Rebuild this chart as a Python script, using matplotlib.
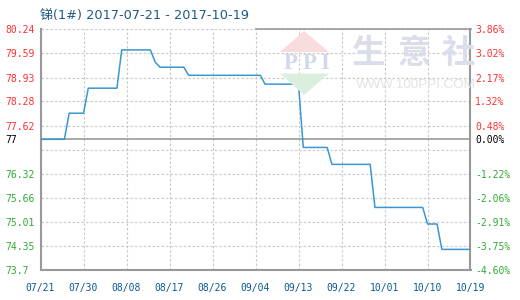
import numpy as np
import matplotlib
matplotlib.use("Agg")
import matplotlib.pyplot as plt
from matplotlib.patches import Polygon

# Antimony (1#) price, change points between 2017-07-21 and 2017-10-19
dates = ["2017-07-21", "2017-07-26", "2017-07-27", "2017-07-30", "2017-07-31",
         "2017-08-06", "2017-08-07", "2017-08-13", "2017-08-14", "2017-08-15",
         "2017-08-20", "2017-08-21", "2017-09-05", "2017-09-06", "2017-09-13",
         "2017-09-14", "2017-09-19", "2017-09-20", "2017-09-28", "2017-09-29",
         "2017-10-09", "2017-10-10", "2017-10-12", "2017-10-13", "2017-10-19"]
prices = [77.25, 77.25, 77.96, 77.96, 78.64,
          78.64, 79.68, 79.68, 79.35, 79.21,
          79.21, 78.99, 78.99, 78.75, 78.75,
          77.03, 77.03, 76.57, 76.57, 75.40,
          75.40, 74.95, 74.95, 74.26, 74.26]

base_price = 77.25
base_label = "77"

x_tick_dates = ["2017-07-21", "2017-07-30", "2017-08-08", "2017-08-17", "2017-08-26",
                "2017-09-04", "2017-09-13", "2017-09-22", "2017-10-01", "2017-10-10",
                "2017-10-19"]
x_tick_labels = ["07/21", "07/30", "08/08", "08/17", "08/26", "09/04", "09/13",
                 "09/22", "10/01", "10/10", "10/19"]

y_grid = [80.24, 79.59, 78.93, 78.28, 77.62, 76.97, 76.32, 75.66, 75.01, 74.35, 73.70]
y_upper_ticks = [80.24, 79.59, 78.93, 78.28, 77.62]
y_upper_labels = ["80.24", "79.59", "78.93", "78.28", "77.62"]
y_lower_ticks = [76.32, 75.66, 75.01, 74.35, 73.70]
y_lower_labels = ["76.32", "75.66", "75.01", "74.35", "73.7"]
pct_upper_labels = ["3.86%", "3.02%", "2.17%", "1.32%", "0.48%"]
pct_base_label = "0.00%"
pct_lower_labels = ["-1.22%", "-2.06%", "-2.91%", "-3.75%", "-4.60%"]

title = "锑(1#) 2017-07-21 - 2017-10-19"

W, H = 520, 300
RED, GREEN, BLACK = "#ff3030", "#33aa33", "#000000"
GRID = "#c8c8c8"
SPINE = "#999999"

fig = plt.figure(figsize=(W / 100, H / 100), dpi=100)
L, R, T, B = 40.5, 470.5, 29.3, 270.0
ax = fig.add_axes([L / W, 1 - B / H, (R - L) / W, (B - T) / H])

x = np.array(dates, dtype="datetime64[D]")
xt = np.array(x_tick_dates, dtype="datetime64[D]")
ax.set_xlim(xt[0], xt[-1])
ax.set_ylim(y_grid[-1], y_grid[0])


def px(xp, yp):
    return xp / W, 1 - yp / H


# faint site watermark behind the plot
tri_top = Polygon([px(304, 31), px(280, 52), px(329, 52)], closed=True,
                  fc="#f9dcdc", ec="none", transform=fig.transFigure, zorder=0.2)
tri_bot = Polygon([px(280, 73.5), px(329, 73.5), px(304, 95)], closed=True,
                  fc="#dcefdf", ec="none", transform=fig.transFigure, zorder=0.2)
fig.add_artist(tri_top)
fig.add_artist(tri_bot)
for ch, xc in zip("PPI", [290.5, 309.5, 324.5]):
    fig.text(*px(xc, 63.5), ch, ha="center", va="center", fontsize=16.5,
             family="Liberation Serif", weight="bold", color="#d0d8ea", zorder=0.2)
for ch, xc in zip("生意社", [369, 414, 458]):
    fig.text(*px(xc, 53.5), ch, ha="center", va="center", fontsize=24,
             family="Noto Sans CJK SC", weight="bold", color="#dadeea", zorder=0.2)
fig.text(*px(415.5, 85.5), "WWW.100PPI.COM", ha="center", va="center", fontsize=9.6,
         family="Liberation Sans", color="#e3e3e3", zorder=0.2)

# grid
dash = (0, (2.2, 1.8))
for yv in y_grid:
    ax.axhline(yv, color=GRID, lw=0.8, ls=dash, zorder=1)
for xv in xt:
    ax.axvline(xv, color=GRID, lw=0.8, ls=dash, zorder=1)
ax.axhline(base_price, color=SPINE, lw=1.2, zorder=2)
ax.plot([xt[5], xt[-1]], [y_grid[0], y_grid[0]], color=SPINE, lw=1.2, zorder=2,
        clip_on=False)

ax.plot(x, prices, color="#3a97d4", lw=1.1, zorder=3)

for side in ["left", "bottom", "right"]:
    ax.spines[side].set_color(SPINE)
    ax.spines[side].set_linewidth(1.5)
ax.spines["top"].set_visible(False)

tick_font = dict(family="DejaVu Sans Mono", size=7)

ax.set_xticks(xt)
ax.set_xticklabels(x_tick_labels, color="#0b5a8c", fontdict=tick_font)
ax.tick_params(axis="x", length=0, pad=9)

left_ticks = y_upper_ticks + [base_price] + y_lower_ticks
left_labels = y_upper_labels + [base_label] + y_lower_labels
left_colors = [RED] * len(y_upper_ticks) + [BLACK] + [GREEN] * len(y_lower_ticks)
ax.set_yticks(left_ticks)
ax.set_yticklabels(left_labels, fontdict=tick_font)
ax.tick_params(axis="y", length=0, pad=25.5)
for lab, c in zip(ax.get_yticklabels(), left_colors):
    lab.set_color(c)
    lab.set_horizontalalignment("left")

ax2 = ax.twinx()
ax2.set_ylim(ax.get_ylim())
ax2.set_yticks(left_ticks)
ax2.set_yticklabels(pct_upper_labels + [pct_base_label] + pct_lower_labels, fontdict=tick_font)
ax2.tick_params(axis="y", length=0, pad=3.2)
for lab, c in zip(ax2.get_yticklabels(), left_colors):
    lab.set_color(c)
for s in ax2.spines.values():
    s.set_visible(False)

fig.text(*px(39.5, 15), title, ha="left", va="center", fontsize=9.3,
         family=["DejaVu Sans", "Noto Sans CJK SC"], color="#1f5a85")

fig.savefig("out.png", dpi=100, facecolor="white")
